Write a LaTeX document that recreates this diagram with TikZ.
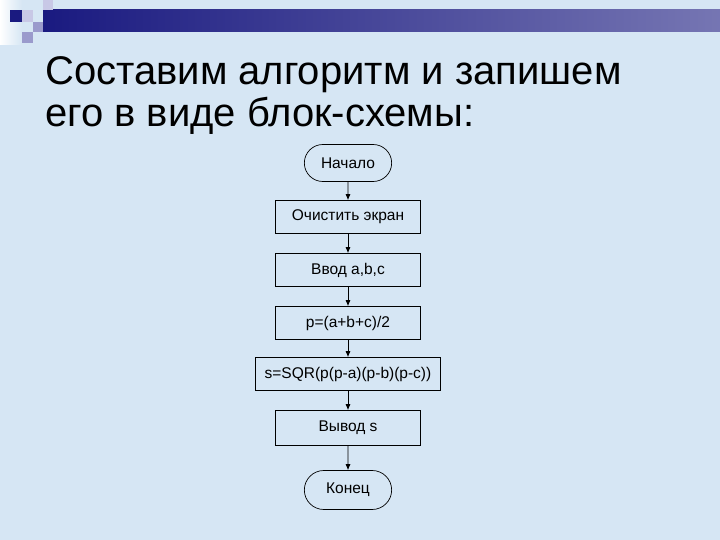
\documentclass[tikz,border=0pt]{standalone}
\usepackage{fontspec}
\setmainfont{Liberation Sans}
\usetikzlibrary{shapes.misc,arrows.meta}
\definecolor{bg}{HTML}{D6E6F4}
\definecolor{navy}{HTML}{1A1A80}
\definecolor{lav}{HTML}{C8C8E6}
\definecolor{mlav}{HTML}{9A9ACC}
\begin{document}
\begin{tikzpicture}[x=1pt,y=-1pt,
  blk/.style={draw,line width=0.7pt,minimum height=33pt,minimum width=145pt,inner sep=1pt,font=\fontsize{15.5}{18}\selectfont},
  term/.style={draw,line width=0.7pt,rounded rectangle,minimum height=37pt,minimum width=94pt,font=\fontsize{15.5}{18}\selectfont},
  arr/.style={-{Latex[length=6pt,width=5pt]},line width=0.7pt}]
\useasboundingbox (0,0) rectangle (720,540);
\fill[bg] (0,0) rectangle (720,540);
\shade[left color=white,right color=bg] (0,0) rectangle (22,45);
\shade[left color=navy,right color=navy!60!white] (43,10) rectangle (720,32);
\fill[navy] (10,10) rectangle (22,22);
\fill[lav] (22,10) rectangle (33,22);
\fill[lav] (43,0) rectangle (53,10);
\fill[mlav] (33,22) rectangle (43,32);
\fill[mlav] (22,32) rectangle (33,43);
\node[anchor=base west,font=\fontsize{40}{44}\selectfont,inner sep=0] (t1) at (45,85) {Составим алгоритм и запишем};
\node[anchor=base west,font=\fontsize{40}{44}\selectfont,inner sep=0] (t2) at (45,127) {его в виде блок-схемы:};
\node[term] (n1) at (348,163) {Начало};
\node[blk] (n2) at (348,217) {Очистить экран};
\node[blk] (n3) at (348,270) {Ввод a,b,c};
\node[blk] (n4) at (348,323) {p=(a+b+c)/2};
\node[blk,minimum width=185pt] (n5) at (348,374) {s=SQR(p(p-a)(p-b)(p-c))};
\node[blk,minimum height=35pt] (n6) at (348,428) {Вывод s};
\node[term,minimum height=39pt] (n7) at (348,490) {Конец};
\foreach \a/\b in {n1/n2,n2/n3,n3/n4,n4/n5,n5/n6,n6/n7} \draw[arr] (\a) -- (\b);
\end{tikzpicture}
\end{document}
